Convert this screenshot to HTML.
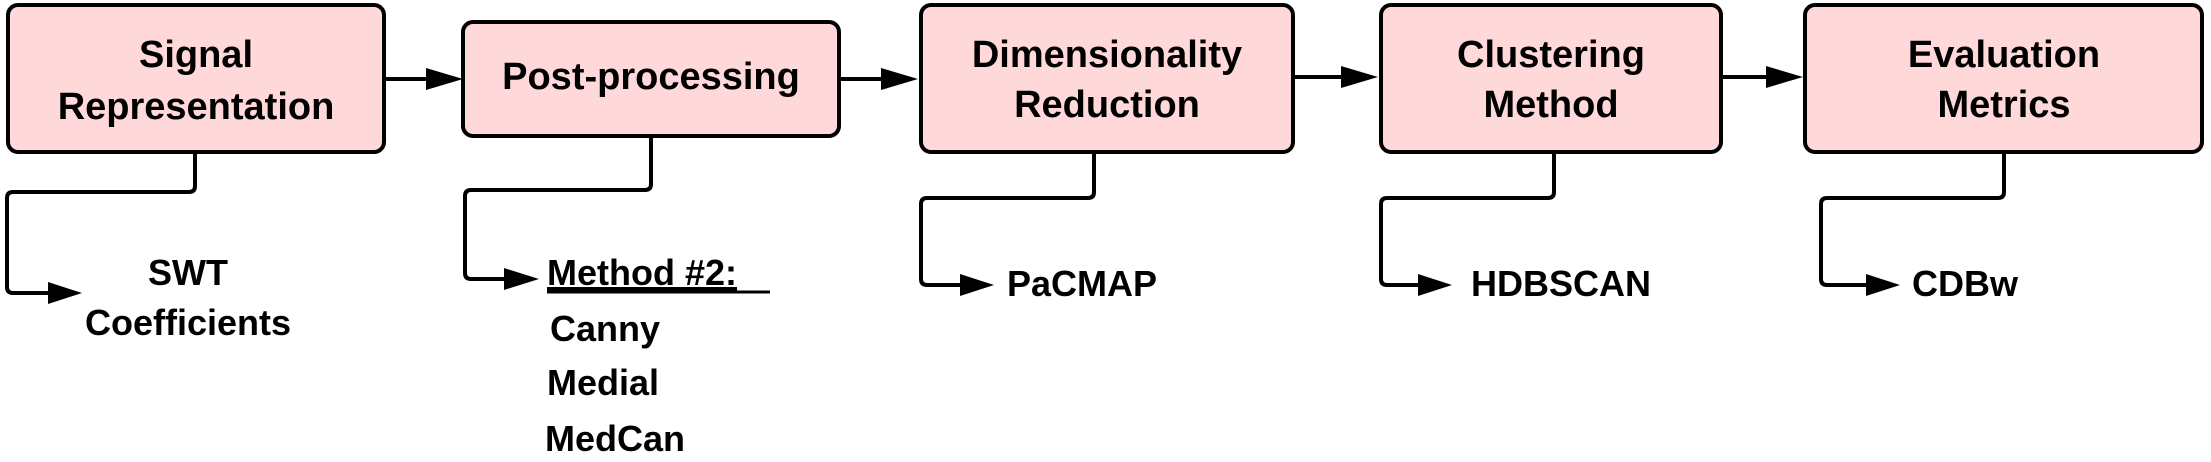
<!DOCTYPE html>
<html><head><meta charset="utf-8"><style>
html,body{margin:0;padding:0;background:#fff;width:2211px;height:462px;overflow:hidden}
svg text{font-family:"Liberation Sans",Arial,sans-serif;font-weight:bold;fill:#000}
</style></head><body>
<svg width="2211" height="462" viewBox="0 0 2211 462" xmlns="http://www.w3.org/2000/svg">
<g fill="#ffd9d9" stroke="#000" stroke-width="4">
<rect x="8" y="5" width="376" height="147" rx="10"/>
<rect x="463" y="22" width="376" height="114" rx="10"/>
<rect x="921" y="5" width="372" height="147" rx="10"/>
<rect x="1381" y="5" width="340" height="147" rx="10"/>
<rect x="1805" y="5" width="397" height="147" rx="10"/>
</g>
<g fill="none" stroke="#000" stroke-width="4" stroke-linejoin="round">
<line x1="384" y1="79" x2="430" y2="79"/>
<line x1="839" y1="79" x2="885" y2="79"/>
<line x1="1293" y1="77" x2="1345" y2="77"/>
<line x1="1721" y1="77" x2="1770" y2="77"/>
<path d="M195 152 V186 Q195 192 189 192 H13 Q7 192 7 198 V287 Q7 293 13 293 H50"/>
<path d="M651 136 V184 Q651 190 645 190 H471 Q465 190 465 196 V273 Q465 279 471 279 H506"/>
<path d="M1094 152 V192 Q1094 198 1088 198 H927 Q921 198 921 204 V279 Q921 285 927 285 H962"/>
<path d="M1554 152 V192 Q1554 198 1548 198 H1387 Q1381 198 1381 204 V279 Q1381 285 1387 285 H1420"/>
<path d="M2004 152 V192 Q2004 198 1998 198 H1827 Q1821 198 1821 204 V279 Q1821 285 1827 285 H1868"/>
</g>
<g fill="#000">
<polygon points="426,68 463,79 426,90"/>
<polygon points="881,68 918,79 881,90"/>
<polygon points="1341,66 1378,77 1341,88"/>
<polygon points="1766,66 1803,77 1766,88"/>
<polygon points="48,282 82,293 48,304"/>
<polygon points="504,268 539,279 504,290"/>
<polygon points="960,274 994,285 960,296"/>
<polygon points="1418,274 1452,285 1418,296"/>
<polygon points="1866,274 1900,285 1866,296"/>
</g>
<g font-size="38" text-anchor="middle">
<text x="196" y="67">Signal</text>
<text x="196" y="119">Representation</text>
<text x="651" y="89">Post-processing</text>
<text x="1107" y="67">Dimensionality</text>
<text x="1107" y="117">Reduction</text>
<text x="1551" y="67">Clustering</text>
<text x="1551" y="117">Method</text>
<text x="2004" y="67">Evaluation</text>
<text x="2004" y="117">Metrics</text>
</g>
<g font-size="36">
<text x="188" y="285" text-anchor="middle">SWT</text>
<text x="188" y="335" text-anchor="middle">Coefficients</text>
<text x="547" y="285" text-decoration="underline">Method #2:</text>
<text x="550" y="341">Canny</text>
<text x="547" y="395">Medial</text>
<text x="545" y="451">MedCan</text>
<text x="1007" y="296">PaCMAP</text>
<text x="1471" y="296">HDBSCAN</text>
<text x="1912" y="296">CDBw</text>
</g>
<line x1="547" y1="292" x2="770" y2="292" stroke="#000" stroke-width="3"/>
</svg>
</body></html>
